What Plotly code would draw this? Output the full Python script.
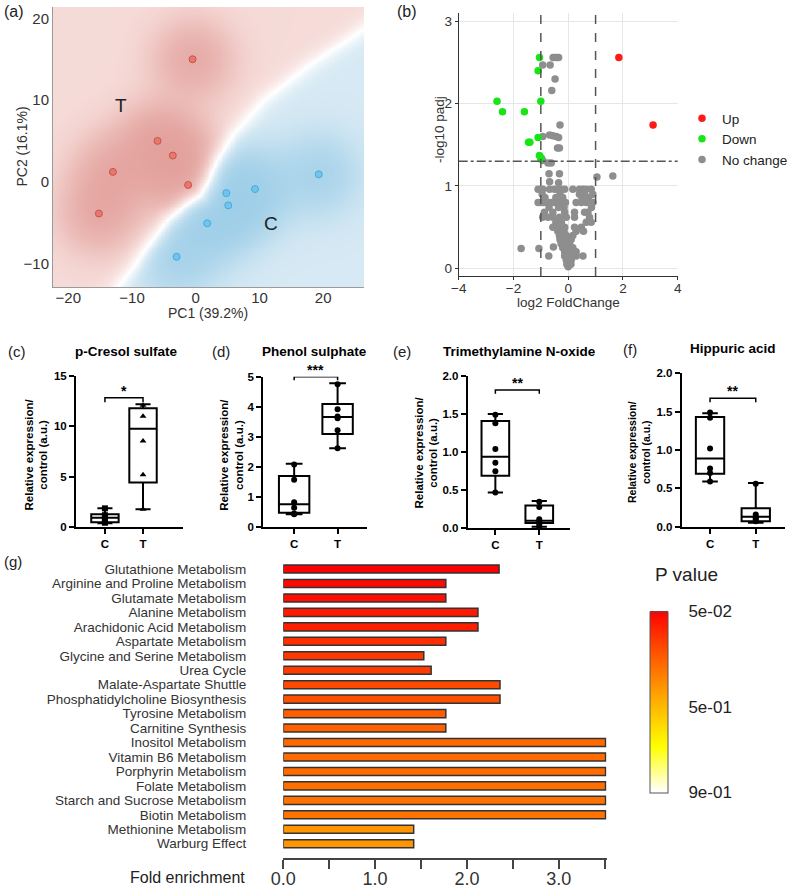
import numpy as np
import plotly.graph_objects as go

W, H = 787, 895
FONT = "Liberation Sans, Arial, sans-serif"


def fx(p):
    return p / W


def fy(p):
    return 1 - p / H


# ---------------- (a) PCA scores ----------------
t_pc1 = [-0.5, -6.0, -3.6, -13.0, -1.2, -15.2]
t_pc2 = [15.0, 5.0, 3.2, 1.2, -0.4, -3.9]
c_pc1 = [4.8, 9.3, 19.3, 5.1, 1.8, -3.0]
c_pc2 = [-1.4, -0.9, 0.9, -2.9, -5.1, -9.2]
# class boundary (white band)
boundary_pc1 = [-14.0, -12.4, -9.8, -7.7, -4.5, -1.4, 0.7, 2.0, 3.3, 5.9, 10.6, 17.4, 25.3, 28.0]
boundary_pc2 = [-14.5, -12.9, -10.4, -7.95, -4.7, -2.65, -1.6, 0.2, 2.65, 5.9, 10.0, 14.1, 18.2, 19.7]

# ---------------- (b) volcano ----------------
up_fc = [1.85, 3.1]
up_p = [2.56, 1.74]
down_fc = [-1.05, -1.1, -2.6, -1.0, -2.4, -1.6, -1.1, -1.45, -1.4, -1.05, -1.0]
down_p = [2.56, 2.40, 2.03, 2.03, 1.90, 1.90, 1.59, 1.53, 1.53, 1.37, 1.33]
nc_fc = [-0.55, -0.47, -0.40, -0.35, -0.93, -0.66, -0.48, -0.60, -0.30,
         -0.93, -0.68, -0.56, -0.44, -0.35, -0.39, -0.32, -0.98, -0.93,
         -0.74, -0.62, -0.70, -0.32, -0.68, -0.35, 1.05, 1.63, -1.72, -1.07,
         -0.54, -0.71, 0.0,
         -1.1, -0.93, -0.68, -0.5, -0.38, -0.26, -0.13, 0.17, 0.41, 0.54, 0.66, 0.84,
         -0.95, -0.3, 0.41, 0.6, 0.9,
         -0.85, -0.45, -0.2, 0.5, 0.75,
         -1.1, -1.0, -0.9, -0.8, -0.7, -0.6, -0.5, -0.4, -0.3, -0.2, -0.1, 0.29, 0.48, 0.66, 0.9,
         -0.7, -0.35, -0.15, 0.85,
         -0.87, -0.56, -0.13, 0.23, 0.6, 0.72,
         -0.93, -0.74, -0.56, -0.32, -0.07, 0.23, 0.78,
         -0.45, -0.25, 0.66, 0.84,
         -0.56, -0.4, -0.26, -0.13, 0.23, 0.48,
         -0.38, -0.15, 0.29, 0.56,
         -0.32, -0.2, -0.07, 0.17,
         -0.3, -0.15, 0.11,
         -0.26, -0.13, 0.05,
         -0.2, -0.07, 0.17,
         -0.13, 0.0, 0.1, 0.29,
         -0.13, 0.05, 0.17, 0.29, 0.54,
         -0.07, 0.11,
         -0.05, 0.1]
nc_p = [2.56, 2.56, 2.56, 2.56, 2.47, 2.47, 2.30, 2.16, 1.74,
        1.60, 1.62, 1.61, 1.60, 1.59, 1.46, 1.46, 1.34, 1.31,
        1.28, 1.28, 1.15, 1.15, 1.05, 1.04, 1.11, 1.12, 0.24, 0.24,
        0.26, 0.15, 0.02,
        0.96, 0.96, 0.96, 0.96, 0.96, 0.96, 0.96, 0.96, 0.96, 0.96, 0.96, 0.96,
        0.90, 0.90, 0.90, 0.90, 0.90,
        0.86, 0.86, 0.86, 0.86, 0.86,
        0.80, 0.80, 0.80, 0.80, 0.80, 0.80, 0.80, 0.80, 0.80, 0.80, 0.80, 0.80, 0.80, 0.80, 0.80,
        0.74, 0.74, 0.74, 0.74,
        0.68, 0.68, 0.68, 0.68, 0.68, 0.68,
        0.62, 0.62, 0.62, 0.62, 0.62, 0.62, 0.62,
        0.56, 0.56, 0.56, 0.56,
        0.50, 0.50, 0.50, 0.50, 0.50, 0.50,
        0.45, 0.45, 0.45, 0.45,
        0.40, 0.40, 0.40, 0.40,
        0.35, 0.35, 0.35,
        0.30, 0.30, 0.30,
        0.25, 0.25, 0.25,
        0.20, 0.20, 0.20, 0.20,
        0.15, 0.15, 0.15, 0.15, 0.15,
        0.10, 0.10,
        0.05, 0.05]

# ---------------- (c)-(f) box plots ----------------
groups = ["C", "T"]
# p-Cresol sulfate
cres_lo = [0.40, 1.80]
cres_q1 = [0.50, 4.43]
cres_med = [0.95, 9.78]
cres_q3 = [1.30, 11.80]
cres_hi = [1.90, 12.20]
cres_c_pts = [1.88, 1.20, 1.05, 0.90, 0.60, 0.45]
cres_t_pts = [12.1, 11.0, 8.55, 5.2, 1.8]
# Phenol sulphate
phen_lo = [0.42, 2.62]
phen_q1 = [0.47, 3.09]
phen_med = [0.76, 3.66]
phen_q3 = [1.70, 4.09]
phen_hi = [2.10, 4.78]
phen_c_pts = [2.08, 1.57, 0.82, 0.64, 0.45, 0.42]
phen_t_pts = [4.75, 3.92, 3.68, 3.62, 3.22, 2.62]
# Trimethylamine N-oxide
tmao_lo = [0.47, 0.02]
tmao_q1 = [0.69, 0.07]
tmao_med = [0.94, 0.10]
tmao_q3 = [1.41, 0.30]
tmao_hi = [1.50, 0.36]
tmao_c_pts = [1.49, 1.38, 1.04, 0.86, 0.75, 0.47]
tmao_t_pts = [0.35, 0.28, 0.12, 0.09, 0.05, 0.02]
# Hippuric acid
hipp_lo = [0.59, 0.05]
hipp_q1 = [0.69, 0.07]
hipp_med = [0.89, 0.13]
hipp_q3 = [1.43, 0.24]
hipp_hi = [1.48, 0.57]
hipp_c_pts = [1.49, 1.42, 1.02, 0.76, 0.70, 0.59]
hipp_t_pts = [0.56, 0.16, 0.13, 0.11, 0.09, 0.07]

# ---------------- (g) enrichment ----------------
pathways = ["Glutathione Metabolism", "Arginine and Proline Metabolism",
            "Glutamate Metabolism", "Alanine Metabolism",
            "Arachidonic Acid Metabolism", "Aspartate Metabolism",
            "Glycine and Serine Metabolism", "Urea Cycle",
            "Malate-Aspartate Shuttle", "Phosphatidylcholine Biosynthesis",
            "Tyrosine Metabolism", "Carnitine Synthesis",
            "Inositol Metabolism", "Vitamin B6 Metabolism",
            "Porphyrin Metabolism", "Folate Metabolism",
            "Starch and Sucrose Metabolism", "Biotin Metabolism",
            "Methionine Metabolism", "Warburg Effect"]
fold_enrichment = [2.35, 1.77, 1.77, 2.12, 2.12, 1.77, 1.53, 1.61, 2.36, 2.36,
                   1.77, 1.77, 3.51, 3.51, 3.51, 3.51, 3.51, 3.51, 1.42, 1.42]
p_values = [0.05, 0.074, 0.086, 0.109, 0.12, 0.156, 0.18, 0.19, 0.228, 0.239,
            0.275, 0.28, 0.30, 0.305, 0.31, 0.315, 0.32, 0.325, 0.41, 0.41]
cbar_ticks = [0.05, 0.5, 0.9]
cbar_text = ["5e-02", "5e-01", "9e-01"]

fig = go.Figure()

# ---------- (a) background: class side of the boundary + soft halos around the scores ----------
sx, sy = 6.375, 8.17                      # screen pixels per data unit
gx = np.linspace(-22.4, 26.4, 240)
gy = np.linspace(-12.9, 21.4, 190)
GX, GY = np.meshgrid(gx, gy)
bx, by = np.array(boundary_pc1), np.array(boundary_pc2)
on_t_side = GX < np.interp(GY, by, bx)
# distance (in screen px) to the boundary polyline
PX, PY = GX * sx, GY * sy
dist = np.full(GX.shape, np.inf)
for i in range(len(bx) - 1):
    ax_, ay_ = bx[i] * sx, by[i] * sy
    ex, ey = bx[i + 1] * sx - ax_, by[i + 1] * sy - ay_
    tt = np.clip(((PX - ax_) * ex + (PY - ay_) * ey) / (ex * ex + ey * ey), 0, 1)
    dist = np.minimum(dist, np.hypot(PX - ax_ - tt * ex, PY - ay_ - tt * ey))
ramp = np.tanh(dist / 11.0)


def halo(xs, ys, sig):
    out = np.zeros_like(GX)
    for a, b in zip(xs, ys):
        out += np.exp(-(((GX - a) * sx) ** 2 + ((GY - b) * sy) ** 2) / (2 * sig ** 2))
    return out


local = np.where(on_t_side, halo(t_pc1, t_pc2, 26), halo(c_pc1, c_pc2, 26))
intensity = 0.38 + 0.62 * (1 - np.exp(-1.4 * local))
zsurf = np.where(on_t_side, 1, -1) * ramp * intensity

fig.add_trace(go.Heatmap(
    x=gx, y=gy, z=zsurf, zmin=-1, zmax=1, zsmooth="best", showscale=False,
    colorscale=[[0, "rgb(158,206,232)"], [0.3, "rgb(212,232,243)"], [0.5, "rgb(255,255,255)"],
                [0.7, "rgb(245,217,214)"], [1, "rgb(226,158,153)"]],
    hoverinfo="skip", xaxis="x", yaxis="y"))
fig.add_trace(go.Scatter(x=t_pc1, y=t_pc2, mode="markers", showlegend=False,
                         marker=dict(size=7, color="#e8776c", line=dict(color="#c4564e", width=1)),
                         xaxis="x", yaxis="y"))
fig.add_trace(go.Scatter(x=c_pc1, y=c_pc2, mode="markers", showlegend=False,
                         marker=dict(size=7, color="#6ec6ee", line=dict(color="#49a9d8", width=1)),
                         xaxis="x", yaxis="y"))

# ---------- (b) volcano ----------
fig.add_trace(go.Scatter(x=nc_fc, y=nc_p, mode="markers", name="No change", legendrank=3,
                         marker=dict(size=7.5, color="#8e8e8e"), xaxis="x2", yaxis="y2"))
fig.add_trace(go.Scatter(x=down_fc, y=down_p, mode="markers", name="Down", legendrank=2,
                         marker=dict(size=7.5, color="#16e616"), xaxis="x2", yaxis="y2"))
fig.add_trace(go.Scatter(x=up_fc, y=up_p, mode="markers", name="Up", legendrank=1,
                         marker=dict(size=7.5, color="#ff1a1a"), xaxis="x2", yaxis="y2"))

# ---------- (c)-(f) ----------
box_specs = [
    ("3", cres_lo, cres_q1, cres_med, cres_q3, cres_hi, cres_c_pts, cres_t_pts, "square", "triangle-up", 0.72),
    ("4", phen_lo, phen_q1, phen_med, phen_q3, phen_hi, phen_c_pts, phen_t_pts, "circle", "circle", 0.70),
    ("5", tmao_lo, tmao_q1, tmao_med, tmao_q3, tmao_hi, tmao_c_pts, tmao_t_pts, "circle", "circle", 0.63),
    ("6", hipp_lo, hipp_q1, hipp_med, hipp_q3, hipp_hi, hipp_c_pts, hipp_t_pts, "circle", "circle", 0.62),
]
for ax, lo, q1, med, q3, hi, cp, tp, sc, st, bw in box_specs:
    fig.add_trace(go.Box(x=[1, 2], q1=q1, median=med, q3=q3, lowerfence=lo, upperfence=hi,
                         fillcolor="white", line=dict(color="black", width=2),
                         whiskerwidth=0.55, width=bw, boxpoints=False, showlegend=False,
                         hoverinfo="skip", xaxis="x" + ax, yaxis="y" + ax))
    fig.add_trace(go.Scatter(x=[1] * len(cp), y=cp, mode="markers", showlegend=False,
                             marker=dict(size=6, color="black", symbol=sc), cliponaxis=False,
                             xaxis="x" + ax, yaxis="y" + ax))
    fig.add_trace(go.Scatter(x=[2] * len(tp), y=tp, mode="markers", showlegend=False,
                             marker=dict(size=6, color="black", symbol=st), cliponaxis=False,
                             xaxis="x" + ax, yaxis="y" + ax))

# significance brackets: (axis, bracket level, drop, stars)
sig = [("3", 12.85, 0.45, "*"), ("4", 5.0, 0.12, "***"), ("5", 1.816, 0.05, "**"), ("6", 1.674, 0.05, "**")]
for ax, lvl, drop, stars in sig:
    fig.add_trace(go.Scatter(x=[1, 1, 2, 2], y=[lvl - drop, lvl, lvl, lvl - drop], mode="lines",
                             line=dict(color="black", width=1.5), showlegend=False, cliponaxis=False,
                             hoverinfo="skip", xaxis="x" + ax, yaxis="y" + ax))

# ---------- (g) ----------
fig.add_trace(go.Bar(
    y=pathways, x=fold_enrichment, orientation="h", width=0.56, showlegend=False,
    marker=dict(color=[-p for p in p_values], cmin=-0.9, cmax=-0.05,
                colorscale=[[0, "rgb(255,255,255)"], [0.25, "rgb(255,255,0)"],
                            [0.5, "rgb(255,175,0)"], [0.75, "rgb(255,90,0)"], [1, "rgb(255,0,0)"]],
                line=dict(color="#333333", width=1.5),
                colorbar=dict(x=fx(650), xanchor="left", y=fy(702), yanchor="middle",
                              len=181, lenmode="pixels", thickness=18, thicknessmode="pixels",
                              outlinecolor="#555", outlinewidth=1,
                              tickvals=[-v for v in cbar_ticks], ticktext=cbar_text,
                              ticks="outside", ticklen=17, tickcolor="rgba(0,0,0,0)",
                              tickfont=dict(size=17, color="#222", family=FONT),
                              xpad=0, ypad=0)),
    xaxis="x7", yaxis="y7"))

# ---------- layout ----------
tick_a = dict(size=15, color="#333", family=FONT)
bold_tick = dict(size=11.5, color="black", family=FONT, weight=700)


def box_x(ax, dom, rng):
    return dict(domain=[fx(dom[0]), fx(dom[1])], range=rng, tickmode="array", tickvals=[1, 2],
                ticktext=groups, anchor="y" + ax,
                showline=True, linecolor="black", linewidth=2, ticks="outside", ticklen=5,
                tickwidth=2, tickcolor="black", tickfont=bold_tick, showgrid=False,
                zeroline=False, fixedrange=True)


def box_y(ax, dom, rng, dtick, fmt):
    return dict(domain=[fy(dom[1]), fy(dom[0])], range=rng, dtick=dtick, tick0=0, tickformat=fmt,
                anchor="x" + ax,
                showline=True, linecolor="black", linewidth=2, ticks="outside", ticklen=5,
                tickwidth=2, tickcolor="black", tickfont=bold_tick, showgrid=False,
                zeroline=False, fixedrange=True)


layout = dict(
    width=W, height=H, margin=dict(l=0, r=0, t=0, b=0, autoexpand=False),
    paper_bgcolor="white", plot_bgcolor="rgba(0,0,0,0)",
    font=dict(family=FONT, color="#222"),
    showlegend=True,
    legend=dict(x=fx(682), y=fy(103), xanchor="left", yanchor="top",
                font=dict(size=13.5, color="#222", family=FONT), bgcolor="rgba(0,0,0,0)",
                itemwidth=30, tracegroupgap=0),
    xaxis=dict(domain=[fx(53), fx(364)], range=[-22.4, 26.4], tickvals=[-20, -10, 0, 10, 20],
               showline=True, linecolor="#9a9a9a", linewidth=1, ticks="", showgrid=False,
               zeroline=False, tickfont=tick_a, anchor="y", ticklabelstandoff=-3),
    yaxis=dict(domain=[fy(287), fy(7)], range=[-12.9, 21.4], tickvals=[-10, 0, 10, 20],
               showline=True, linecolor="#9a9a9a", linewidth=1, ticks="", showgrid=False,
               zeroline=False, tickfont=tick_a, anchor="x"),
    xaxis2=dict(domain=[fx(458.7), fx(677.7)], range=[-4, 4], dtick=2, anchor="y2",
                showline=True, linecolor="#333", linewidth=1, ticks="outside", ticklen=3,
                tickcolor="#333", showgrid=True, gridcolor="#e6e6e6", zeroline=False,
                ticklabelstandoff=-3,
                tickfont=dict(size=13.5, color="#333", family=FONT)),
    yaxis2=dict(domain=[fy(276), fy(12.7)], range=[-0.093, 3.104], dtick=1, anchor="x2",
                showline=True, linecolor="#333", linewidth=1, ticks="outside", ticklen=3,
                tickcolor="#333", showgrid=True, gridcolor="#e6e6e6", zeroline=False,
                tickfont=dict(size=13.5, color="#333", family=FONT)),
    xaxis3=box_x("3", (76, 183), [0.24, 3.05]), yaxis3=box_y("3", (376, 527.3), [0, 15], 5, "d"),
    xaxis4=box_x("4", (263.3, 366.7), [0.29, 2.67]), yaxis4=box_y("4", (376.7, 527), [0, 5], 1, "d"),
    xaxis5=box_x("5", (467.7, 570), [0.37, 2.70]), yaxis5=box_y("5", (376, 528.3), [0, 2], 0.5, ".1f"),
    xaxis6=box_x("6", (681.7, 785), [0.38, 2.64]), yaxis6=box_y("6", (373.3, 526.7), [0, 2], 0.5, ".1f"),
    xaxis7=dict(domain=[fx(283.3), fx(606.5)], range=[0, 3.52], anchor="y7",
                tickmode="array", tickvals=[0, 1, 2, 3], ticktext=["0.0", "1.0", "2.0", "3.0"],
                showline=True, linecolor="#444", linewidth=1.5, ticks="outside", ticklen=9,
                tickwidth=1.5, tickcolor="#444", ticklabelstandoff=-6,
                minor=dict(ticks="outside", tickmode="array", tickvals=[0.5, 1.5, 2.5, 3.5],
                           ticklen=9, tickwidth=1.5, tickcolor="#444", showgrid=False),
                showgrid=False, zeroline=False, tickfont=dict(size=18, color="#333", family=FONT)),
    yaxis7=dict(domain=[fy(858.2), fy(558.9)], type="category", categoryorder="array",
                categoryarray=pathways, tickmode="array", tickvals=pathways,
                range=[20, -0.7], anchor="x7", ticks="",
                showline=False, showgrid=False, zeroline=False, ticklabelstandoff=36,
                tickfont=dict(size=13.5, color="#333", family=FONT)),
)
fig.update_layout(**layout)

ann = []


def text(x, y, s, size, **kw):
    d = dict(x=fx(x), y=fy(y), xref="paper", yref="paper", text=s, showarrow=False,
             font=dict(size=size, color=kw.pop("color", "#222"), family=FONT,
                       weight=kw.pop("weight", 400)),
             xanchor=kw.pop("xanchor", "center"), yanchor=kw.pop("yanchor", "middle"))
    d.update(kw)
    ann.append(d)


# panel letters
text(2, 12, "(a)", 16, xanchor="left")
text(395, 12, "(b)", 16, xanchor="left")
text(6, 351, "(c)", 15, xanchor="left")
text(210, 351, "(d)", 15, xanchor="left")
text(391, 351, "(e)", 15, xanchor="left")
text(621, 349, "(f)", 15, xanchor="left")
text(2, 561, "(g)", 15, xanchor="left")

# (a)
text(121, 106, "T", 19)
text(270.7, 224, "C", 19)
text(21.5, 147, "PC2 (16.1%)", 14, textangle=-90, color="#333")
text(208, 313, "PC1 (39.2%)", 14, color="#333")
# (b)
text(568, 302, "log2 FoldChange", 13.5, color="#333")
text(440, 130, "-log10 padj", 13.5, textangle=-90, color="#333")

# (c)-(f) titles
text(126.7, 351, "p-Cresol sulfate", 13.5, weight=700, color="black")
text(314.8, 351.5, "Phenol sulphate", 13.5, weight=700, color="black")
text(519, 351, "Trimethylamine N-oxide", 13.5, weight=700, color="black")
text(732.5, 348, "Hippuric acid", 13.5, weight=700, color="black")
ylab = "Relative expression/<br>control (a.u.)"
text(36.5, 455, ylab, 11.5, weight=700, textangle=-90, color="black")
text(231.7, 455, ylab, 11.5, weight=700, textangle=-90, color="black")
text(426.5, 453, ylab, 11.5, weight=700, textangle=-90, color="black")
text(639, 452, ylab, 10.5, weight=700, textangle=-90, color="black")

# stars above brackets
for ax, lvl, drop, stars in sig:
    ann.append(dict(x=1.5, y=lvl, xref="x" + ax, yref="y" + ax, text=stars, showarrow=False,
                    yanchor="bottom", yshift=-3, font=dict(size=14, color="black", family=FONT,
                                                           weight=700)))

# (g)
text(247, 877, "Fold enrichment", 16, xanchor="right", color="#222")
text(653, 574, "P value", 19, xanchor="left", color="#222")

fig.update_layout(annotations=ann)

# dashed threshold lines in (b)
fig.update_layout(shapes=[
    dict(type="line", xref="x2", yref="paper", x0=-1, x1=-1, y0=fy(276), y1=fy(12.7),
         line=dict(color="#555", width=1.5, dash="dash")),
    dict(type="line", xref="x2", yref="paper", x0=1, x1=1, y0=fy(276), y1=fy(12.7),
         line=dict(color="#555", width=1.5, dash="dash")),
    dict(type="line", xref="paper", yref="y2", x0=fx(458.7), x1=fx(677.7), y0=1.301, y1=1.301,
         line=dict(color="#555", width=1.5, dash="dashdot")),
])

fig.write_html("out.html", config={"displayModeBar": False},
               post_script="document.body.style.margin='0';document.body.style.overflow='hidden';")
